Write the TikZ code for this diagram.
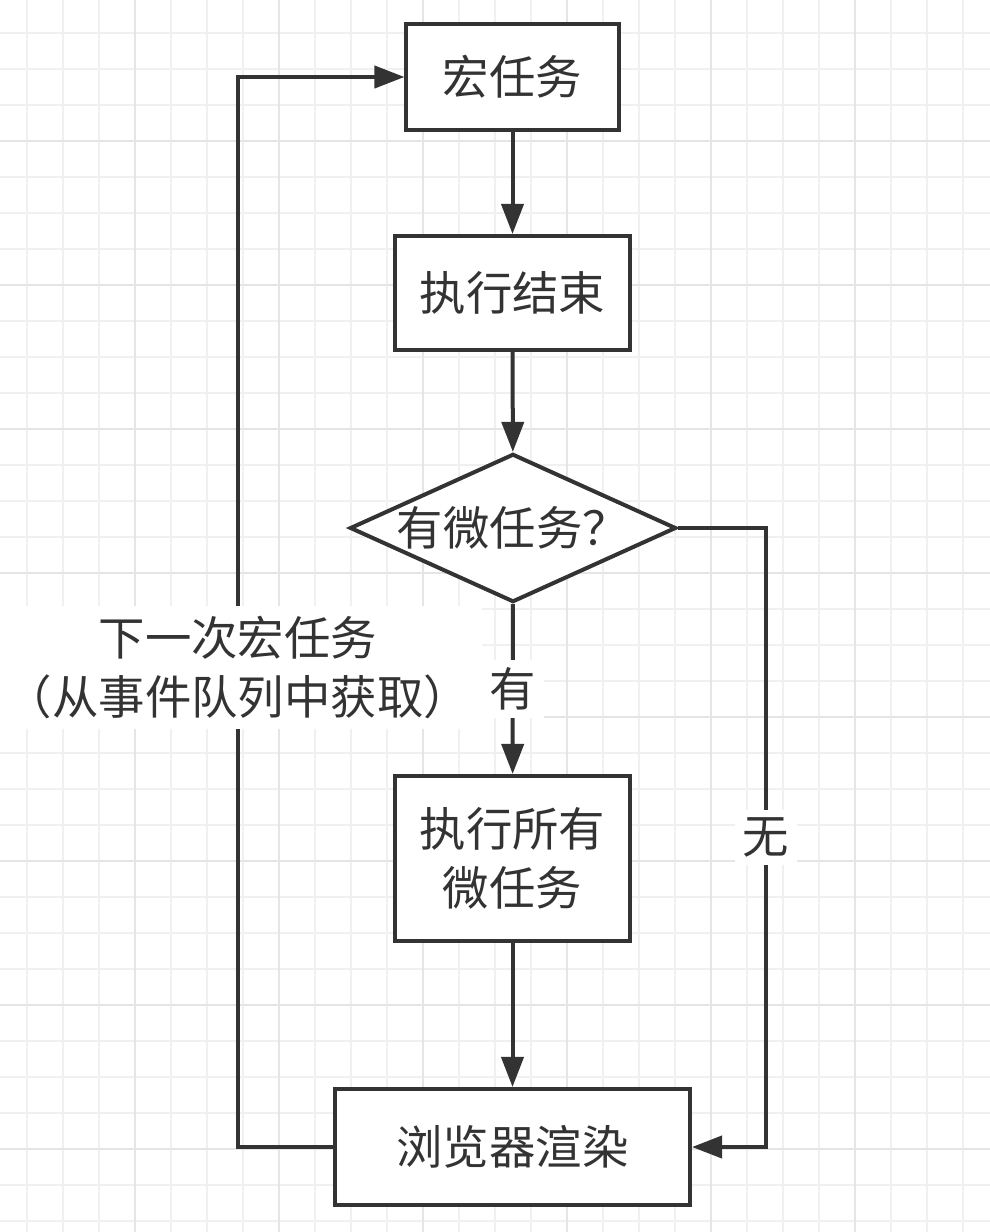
\documentclass[tikz,border=0pt]{standalone}
\usepackage{fontspec}
\usepackage{tikz}
\usetikzlibrary{arrows.meta,shapes.geometric}
\usepackage{xcolor}
\newfontfamily\cjk{Noto Sans CJK SC}
\definecolor{ink}{HTML}{333333}

\begin{document}
\begin{tikzpicture}[x=0.025cm,y=-0.025cm,>={Triangle[length=0.75cm,width=0.55cm]},
  font=\cjk\fontsize{33}{42}\selectfont,
  box/.style={draw=ink,text=ink,line width=0.1cm,fill=white,inner sep=0pt,align=center},
  flow/.style={->,draw=ink,line width=0.1cm},
  lbl/.style={fill=white,text=ink,inner sep=0.2cm,align=center}]
\useasboundingbox (0,0) rectangle (990,1232);
\fill[white] (0,0) rectangle (990,1232);
% grid paper
\foreach \gx in {27,63,...,963} \draw[gray!12,line width=0.05cm] (\gx,0) -- (\gx,1232);
\foreach \gy in {33,69,...,1221} \draw[gray!12,line width=0.05cm] (0,\gy) -- (990,\gy);
\foreach \gx in {135,279,...,855} \draw[gray!20,line width=0.05cm] (\gx,0) -- (\gx,1232);
\foreach \gy in {141,285,...,1149} \draw[gray!20,line width=0.05cm] (0,\gy) -- (990,\gy);

\node[box,minimum width=5.3cm,minimum height=2.65cm] (macro) at (512.5,77) {宏任务};
\node[box,minimum width=5.875cm,minimum height=2.85cm] (exec) at (512.5,293) {执行结束};
\node[box,diamond,aspect=2.2,minimum width=8cm,minimum height=3.65cm] (micro) at (513,528) {有微任务？};
\node[box,minimum width=5.875cm,minimum height=4.125cm] (allmicro) at (512.5,858.5) {执行所有\\微任务};
\node[box,minimum width=8.875cm,minimum height=2.9cm] (render) at (512.5,1147) {浏览器渲染};

\draw[flow] (macro) -- (exec);
\draw[flow] (exec) -- (micro);
\draw[flow] (micro) -- node[lbl]{有} (allmicro);
\draw[flow] (allmicro) -- (render);
\draw[flow] (micro.east) -- ++(88,0) |- node[lbl,pos=0.25]{无} (render.east);
\draw[flow] (render.west) -- ++(-95,0) |- node[lbl,pos=0.224,inner xsep=0.3cm,inner ysep=0.25cm]{下一次宏任务\\（从事件队列中获取）} (macro.west);
\end{tikzpicture}
\end{document}
